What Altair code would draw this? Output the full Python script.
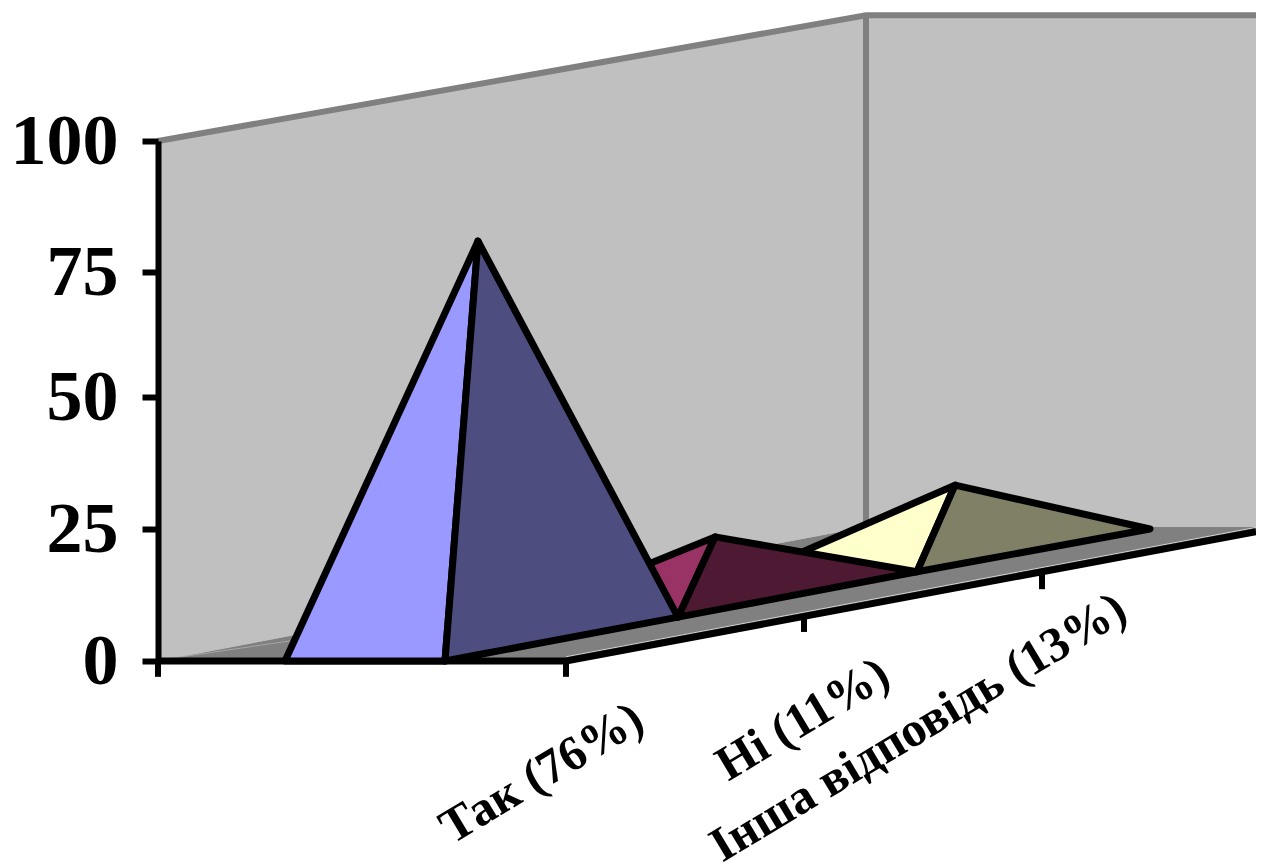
import altair as alt
import numpy as np
import pandas as pd

# horizontal position along the drawing, vertical position in axis units (0-100)
wall_x = [158, 158, 866, 1256, 1256, 866]
wall_y = [0, 100, 124.0, 124.0, 25.4, 25.4]
floor_x = [158, 566, 1256, 1256, 866]
floor_y = [0, 0, 24.5, 25.4, 25.4]

face_x = [
    [757, 917, 955], [917, 1150, 955],
    [518, 678, 715], [678, 917, 715],
    [285, 445, 478], [445, 678, 478],
]
face_y = [
    [16.9, 16.9, 33.3], [16.9, 25.0, 33.3],
    [8.3, 8.3, 23.5], [8.3, 16.9, 23.5],
    [0, 0, 80.9], [0, 8.3, 80.9],
]
face_colors = ["#FFFFCC", "#808066", "#993366", "#4D1933", "#9999FF", "#4D4D80"]

wall_edge_x = [158, 866, 1256]
wall_edge_y = [100, 124.0, 124.0]
corner_x = [866, 866]
corner_y = [124.0, 25.4]
front_x = [158, 566, 1256]
front_y = [0, 0, 24.5]
inner_x = [160, 290]
inner_y = [0.2, 3.8]
sheen_x = [566, 1256]
sheen_y = [0.8, 25.3]

tick_x = [158, 566, 804, 1042]
tick_top = [0, 0, 8.3, 16.5]
tick_bottom = [-3.0, -3.0, 5.5, 13.6]

labels = ["Так (76%)", "Ні (11%)", "Інша відповідь (13%)"]
label_x = [639, 885, 1122]
label_y = [-10.2, -1.7, 10.6]

y_ticks = [0, 25, 50, 75, 100]
y_range = [520, 388, 256, 131, 0]
FONT = "Liberation Serif"

# axis units <-> height above the baseline, same breakpoints as the y scale
_units = [-25, 0, 25, 50, 75, 100, 150]
_height = [-132, 0, 132, 264, 389, 520, 782]


def polygon_frame(xs, ys):
    """Upper and lower boundary of an x-monotone polygon at each vertex x."""
    hs = np.interp(ys, _units, _height)
    n = len(xs)
    rows = []
    for x in sorted(set(xs)):
        hits = []
        for i in range(n):
            j = (i + 1) % n
            x0, h0, x1, h1 = xs[i], hs[i], xs[j], hs[j]
            if x0 == x1:
                if x == x0:
                    hits += [h0, h1]
            elif min(x0, x1) <= x <= max(x0, x1):
                hits.append(h0 + (h1 - h0) * (x - x0) / (x1 - x0))
        rows.append({
            "x": x,
            "y": float(np.interp(max(hits), _height, _units)),
            "y2": float(np.interp(min(hits), _height, _units)),
        })
    return pd.DataFrame(rows)


x_scale = alt.Scale(domain=[158, 1256], zero=False, nice=False)
y_scale = alt.Scale(domain=y_ticks, range=y_range, zero=False, nice=False)
y_axis = alt.Axis(
    values=y_ticks, grid=False, orient="left", zindex=2, title=None,
    domainColor="#000000", domainWidth=6,
    tickColor="#000000", tickWidth=6, tickSize=16,
    labelColor="#000000", labelFont=FONT, labelFontSize=72,
    labelFontWeight="bold", labelPadding=24,
)
X = alt.X("x:Q", scale=x_scale, axis=None)
Y = alt.Y("y:Q", scale=y_scale, axis=y_axis)


def area(xs, ys, fill, **kw):
    return alt.Chart(polygon_frame(xs, ys)).mark_area(
        fill=fill, orient="vertical", clip=False, **kw
    ).encode(x=X, y=Y, y2="y2:Q")


def line(xs, ys, color, width):
    df = pd.DataFrame({"x": xs, "y": ys, "o": range(len(xs))})
    return alt.Chart(df).mark_line(
        color=color, strokeWidth=width, clip=False, strokeJoin="miter", strokeCap="butt"
    ).encode(x=X, y=Y, order="o:Q")


layers = [
    area(wall_x, wall_y, "#C0C0C0"),
    line(wall_edge_x, wall_edge_y, "#808080", 6),
    line(corner_x, corner_y, "#808080", 6),
    area(floor_x, floor_y, "#808080"),
    line(inner_x, inner_y, "#A6A6A6", 1),
    line(sheen_x, sheen_y, "#D0D0D0", 1),
    line(front_x, front_y, "#000000", 7),
]
for xs, ys, c in zip(face_x, face_y, face_colors):
    layers.append(
        area(xs, ys, c, stroke="#000000", strokeWidth=7, strokeJoin="round")
    )

ticks = alt.Chart(pd.DataFrame({"x": tick_x, "y": tick_top, "y2": tick_bottom})).mark_rule(
    color="#000000", strokeWidth=6, clip=False
).encode(x=X, y=Y, y2="y2:Q")
layers.append(ticks)

texts = alt.Chart(pd.DataFrame({"x": label_x, "y": label_y, "t": labels})).mark_text(
    font=FONT, fontSize=49, fontWeight="bold",
    angle=329, align="right", baseline="middle", color="#000000", clip=False,
).encode(x=X, y=Y, text="t:N")
layers.append(texts)

chart = alt.layer(*layers).properties(
    width=1098,
    height=520,
    padding={"left": 150, "top": 133, "right": 0, "bottom": 204},
    autosize=alt.AutoSizeParams(type="none"),
    background="white",
).configure_view(stroke=None)

chart.save("out.html", embed_options={"renderer": "svg", "actions": False})
